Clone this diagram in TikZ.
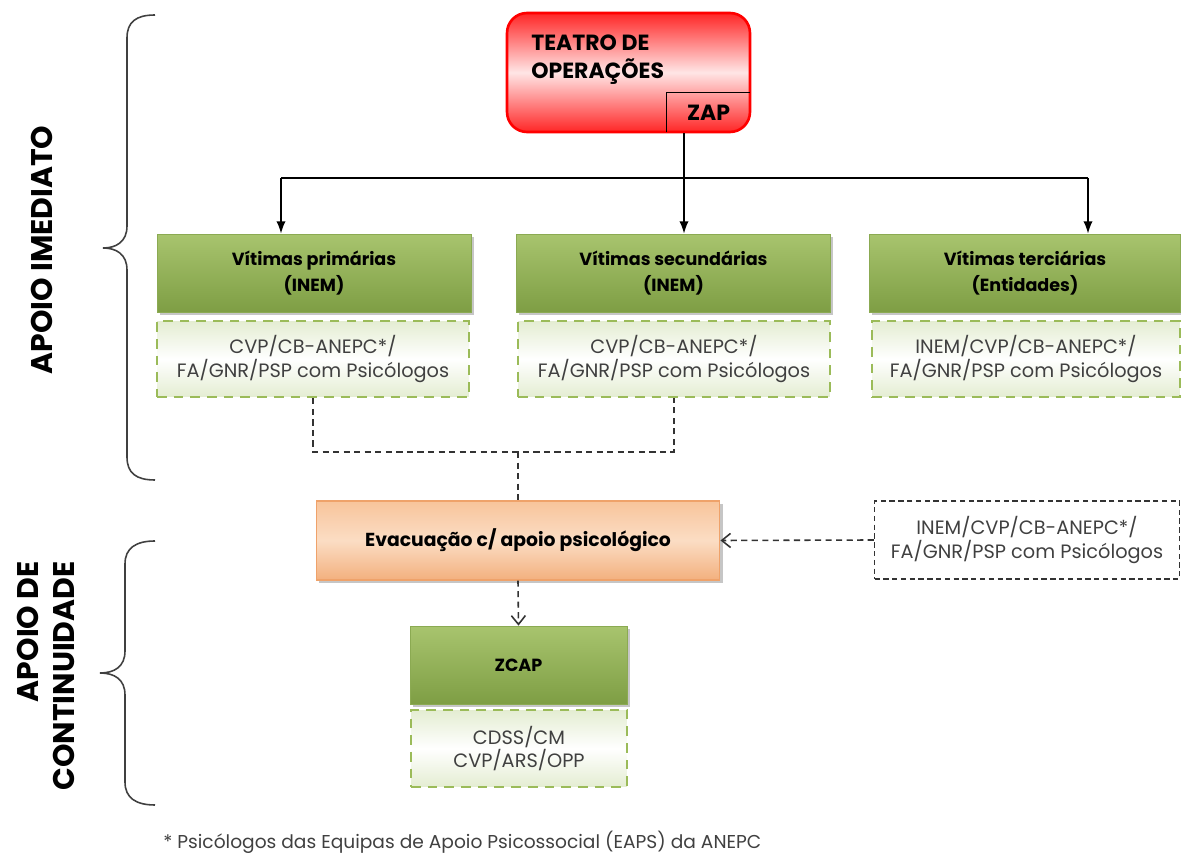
\documentclass[tikz,border=0pt]{standalone}
\usepackage{fontspec}
\setmainfont{Poppins}
\usepackage{tikz}
\usetikzlibrary{arrows.meta,shadows}
\definecolor{hdrtop}{HTML}{A8C46E}
\definecolor{hdrbot}{HTML}{7E9E44}
\definecolor{hdrline}{HTML}{8BAA52}
\definecolor{agtop}{HTML}{E4EDD2}
\definecolor{agline}{HTML}{9BBB59}
\definecolor{evtop}{HTML}{F8C49B}
\definecolor{evmid}{HTML}{FBDDC4}
\definecolor{evbot}{HTML}{F3B07E}
\definecolor{evline}{HTML}{EFA26A}
\colorlet{txtgray}{black!75}

\begin{document}
\begin{tikzpicture}[x=0.02cm,y=-0.02cm,>=Latex,
  hdr/.style={draw=hdrline,top color=hdrtop,bottom color=hdrbot,font=\fontsize{10}{15}\selectfont\bfseries,
    align=center,minimum width=6.28cm,minimum height=1.56cm,inner sep=0pt,
    drop shadow={opacity=0.45,shadow xshift=1.5pt,shadow yshift=-1.5pt}},
  agents/.style={draw=agline,line width=1.5pt,dash pattern=on 5.5pt off 4pt,top color=agtop,bottom color=agtop,
    middle color=white,font=\fontsize{11}{13.5}\selectfont,text=txtgray,align=center,
    minimum width=6.24cm,minimum height=1.52cm,inner sep=0pt},
  link/.style={black!80,line width=0.9pt,dash pattern=on 3.5pt off 2.5pt},
  bracket/.style={black!75,line width=0.9pt},
  side/.style={rotate=90,font=\fontsize{17}{20}\selectfont\bfseries}]
\useasboundingbox (0,0) rectangle (1181,854);

% teatro de operacoes
\node[draw=red,line width=1.5pt,rounded corners=0.4cm,top color=red!85,bottom color=red!85,middle color=white!90!red,
  minimum width=4.86cm,minimum height=2.38cm] (teatro) at (628.5,72.5) {};
\node[anchor=north west,align=left,font=\fontsize{12.5}{15.5}\selectfont\bfseries,inner sep=0pt] (tname) at (531,35) {TEATRO DE\\OPERAÇÕES};
\node[minimum width=1.66cm,minimum height=0.78cm,font=\fontsize{12.5}{15}\selectfont\bfseries] (zap) at (708.5,112.5) {ZAP};
\draw[line width=0.8pt] (zap.south west) -- (zap.north west) -- (zap.north east);

% vitimas
\node[hdr] (vprim) at (314,273) {Vítimas primárias\\(INEM)};
\node[hdr] (vsec) at (673.5,273) {Vítimas secundárias\\(INEM)};
\node[hdr,minimum width=6.22cm] (vter) at (1025,273) {Vítimas terciárias\\(Entidades)};
\node[agents] (ag1) at (313,359) {CVP/CB-ANEPC*/\\FA/GNR/PSP com Psicólogos};
\node[agents] (ag2) at (674,359) {CVP/CB-ANEPC*/\\FA/GNR/PSP com Psicólogos};
\node[agents,minimum width=6.16cm] (ag3) at (1026,359) {INEM/CVP/CB-ANEPC*/\\FA/GNR/PSP com Psicólogos};

\coordinate (bar) at (684,178);
\coordinate (barL) at (281,178);
\coordinate (barR) at (1088,178);
\draw[line width=0.9pt,->] (teatro.south -| bar) -- (vsec.north -| bar);
\draw[line width=0.9pt] (barL) -- (barR);
\draw[line width=0.9pt,->] (barL) -- (barL |- vprim.north);
\draw[line width=0.9pt,->] (barR) -- (barR |- vter.north);

% evacuacao
\node[draw=evline,line width=0.6pt,top color=evtop,bottom color=evbot,middle color=evmid,
  minimum width=8.08cm,minimum height=1.58cm,font=\fontsize{10.7}{14}\selectfont\bfseries,
  drop shadow={opacity=0.45,shadow xshift=1.5pt,shadow yshift=-1.5pt}] (evac) at (518,540.5) {Evacuação c/ apoio psicológico};
\node[draw=black!80,line width=0.8pt,dash pattern=on 3pt off 2pt,minimum width=6.1cm,minimum height=1.56cm,
  font=\fontsize{11}{13.5}\selectfont,text=txtgray,align=center] (extra) at (1027,540) {INEM/CVP/CB-ANEPC*/\\FA/GNR/PSP com Psicólogos};

\coordinate (join) at (518,452);
\draw[link] (ag1.south) |- (join) -| (ag2.south);
\draw[link] (join) -- (evac.north);
\draw[link,-{Straight Barb[length=5pt,width=8pt]}] (extra.west) -- (evac.east);

% zcap
\node[hdr,minimum width=4.34cm] (zcap) at (518.5,665) {ZCAP};
\node[agents,minimum width=4.32cm,minimum height=1.54cm] (zag) at (519,748.5) {CDSS/CM\\CVP/ARS/OPP};
\draw[link,-{Straight Barb[length=5pt,width=8pt]}] (evac.south) -- (zcap.north);

% chavetas
\draw[bracket] (155,15) .. controls (136,15) and (127,22) .. (127,38) -- (127,226)
  .. controls (127,242) and (116,248) .. (103,248) .. controls (116,248) and (127,254) .. (127,270)
  -- (127,457) .. controls (127,473) and (136,480) .. (155,480);
\draw[bracket] (155,541) .. controls (136,541) and (125,548) .. (125,564) -- (125,651)
  .. controls (125,667) and (114,673) .. (100,673) .. controls (114,673) and (125,679) .. (125,695)
  -- (125,782) .. controls (125,798) and (136,805) .. (155,805);
\node[side] (imediato) at (42,250) {APOIO IMEDIATO};
\node[side,align=right] (continuidade) at (46,676) {APOIO DE\\CONTINUIDADE};

% nota
\node[anchor=west,font=\fontsize{10.6}{12}\selectfont,text=txtgray,inner sep=0pt] (nota) at (163,842)
  {* Psicólogos das Equipas de Apoio Psicossocial (EAPS) da ANEPC};
\end{tikzpicture}
\end{document}
